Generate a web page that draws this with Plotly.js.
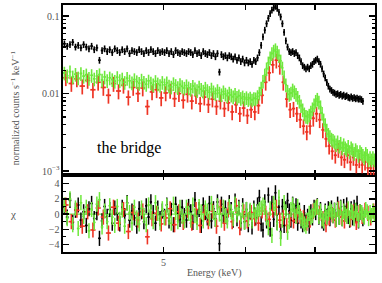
<!DOCTYPE html>
<html><head><meta charset="utf-8">
<script src="https://cdn.plot.ly/plotly-3.0.1.min.js"></script>
<style>body{margin:0;padding:0;background:#fff}#c{width:382px;height:283px}</style>
</head><body><div id="c"></div>
<script>
// coarse bins (0.05 keV) used for the red spectrum
var energyCoarse = [4.025,4.075,4.125,4.175,4.225,4.275,4.325,4.375,4.425,4.475,4.525,4.575,4.625,4.675,4.725,4.775,4.825,4.875,4.925,4.975,5.025,5.075,5.125,5.175,5.225,5.275,5.325,5.375,5.425,5.475,5.525,5.575,5.625,5.675,5.725,5.775,5.825,5.875,5.925,5.975,6.025,6.075,6.125,6.175,6.225,6.275,6.325,6.375,6.425,6.475,6.525,6.575,6.625,6.675,6.725,6.775,6.825,6.875,6.925,6.975,7.025,7.075,7.125,7.175,7.225,7.275,7.325,7.375,7.425,7.475,7.525,7.575,7.625,7.675,7.725,7.775,7.825,7.875,7.925,7.975];

// fine bins (0.025 keV) used for the black and green spectra
var energyFine = [
4.0125,4.0375,4.0625,4.0875,4.1125,4.1375,4.1625,4.1875,4.2125,4.2375,
4.2625,4.2875,4.3125,4.3375,4.3625,4.3875,4.4125,4.4375,4.4625,4.4875,
4.5125,4.5375,4.5625,4.5875,4.6125,4.6375,4.6625,4.6875,4.7125,4.7375,
4.7625,4.7875,4.8125,4.8375,4.8625,4.8875,4.9125,4.9375,4.9625,4.9875,
5.0125,5.0375,5.0625,5.0875,5.1125,5.1375,5.1625,5.1875,5.2125,5.2375,
5.2625,5.2875,5.3125,5.3375,5.3625,5.3875,5.4125,5.4375,5.4625,5.4875,
5.5125,5.5375,5.5625,5.5875,5.6125,5.6375,5.6625,5.6875,5.7125,5.7375,
5.7625,5.7875,5.8125,5.8375,5.8625,5.8875,5.9125,5.9375,5.9625,5.9875,
6.0125,6.0375,6.0625,6.0875,6.1125,6.1375,6.1625,6.1875,6.2125,6.2375,
6.2625,6.2875,6.3125,6.3375,6.3625,6.3875,6.4125,6.4375,6.4625,6.4875,
6.5125,6.5375,6.5625,6.5875,6.6125,6.6375,6.6625,6.6875,6.7125,6.7375,
6.7625,6.7875,6.8125,6.8375,6.8625,6.8875,6.9125,6.9375,6.9625,6.9875,
7.0125,7.0375,7.0625,7.0875,7.1125,7.1375,7.1625,7.1875,7.2125,7.2375,
7.2625,7.2875,7.3125,7.3375,7.3625,7.3875,7.4125,7.4375,7.4625,7.4875,
7.5125,7.5375,7.5625,7.5875,7.6125,7.6375,7.6625,7.6875,7.7125,7.7375,
7.7625,7.7875,7.8125,7.8375,7.8625,7.8875,7.9125,7.9375,7.9625,7.9875];

var blackCounts = [
0.044,0.041,0.043,0.046,0.040,0.042,0.039,0.043,0.040,0.038,
0.041,0.037,0.039,0.027,0.036,0.038,0.035,0.037,0.034,0.038,
0.036,0.034,0.037,0.035,0.038,0.033,0.036,0.035,0.034,0.037,
0.035,0.033,0.036,0.034,0.037,0.035,0.033,0.036,0.034,0.035,
0.034,0.036,0.033,0.035,0.032,0.036,0.034,0.033,0.035,0.034,
0.033,0.035,0.034,0.032,0.036,0.033,0.034,0.031,0.035,0.033,
0.032,0.034,0.031,0.033,0.030,0.033,0.019,0.032,0.030,0.031,
0.029,0.031,0.030,0.028,0.030,0.027,0.029,0.026,0.028,0.025,
0.027,0.025,0.026,0.024,0.027,0.026,0.029,0.034,0.042,0.054,
0.066,0.080,0.094,0.108,0.120,0.128,0.134,0.126,0.112,0.098,
0.080,0.062,0.048,0.040,0.035,0.034,0.035,0.033,0.034,0.031,
0.029,0.026,0.023,0.022,0.021,0.022,0.021,0.023,0.024,0.026,
0.027,0.028,0.026,0.024,0.021,0.018,0.016,0.014,0.0125,0.0115,
0.0110,0.0104,0.0102,0.0098,0.0100,0.0095,0.0098,0.0093,0.0096,0.0092,
0.0094,0.0090,0.0088,0.0091,0.0087,0.0089,0.0086,0.0088,0.0085,0.0086,
0.0084,0.0080,null,null,null,null,null,null,null,null];

var greenCounts = [
0.0185,0.0170,0.0192,0.0165,0.0178,0.0160,0.0182,0.0168,0.0175,0.0158,
0.0172,0.0155,0.0168,0.0176,0.0150,0.0164,0.0148,0.0160,0.0152,0.0145,
0.0162,0.0148,0.0155,0.0140,0.0158,0.0146,0.0138,0.0152,0.0143,0.0136,
0.0150,0.0140,0.0132,0.0146,0.0137,0.0130,0.0144,0.0134,0.0128,0.0140,
0.0130,0.0138,0.0126,0.0122,0.0135,0.0128,0.0120,0.0131,0.0124,0.0118,
0.0127,0.0119,0.0114,0.0125,0.0116,0.0110,0.0122,0.0114,0.0108,0.0118,
0.0110,0.0104,0.0115,0.0106,0.0100,0.0110,0.0102,0.0097,0.0106,0.0099,
0.0094,0.0102,0.0096,0.0091,0.0098,0.0090,0.0094,0.0087,0.0091,0.0085,
0.0089,0.0084,0.0088,0.0083,0.0087,0.0086,0.0092,0.0102,0.0118,0.0145,
0.0175,0.0210,0.0250,0.0290,0.0330,0.0355,0.0370,0.0345,0.0310,0.0265,
0.0215,0.0165,0.0130,0.0108,0.0098,0.0102,0.0112,0.0106,0.0098,0.0090,
0.0080,0.0070,0.0062,0.0055,0.0051,0.0050,0.0053,0.0058,0.0064,0.0072,
0.0080,0.0085,0.0078,0.0068,0.0056,0.0046,0.0040,0.0034,0.0030,0.0028,
0.0026,0.0025,0.0024,0.0022,0.0024,0.0021,0.0023,0.0020,0.0022,0.0020,
0.0019,0.0021,0.0018,0.0020,0.0019,0.0017,0.0019,0.0018,0.0016,0.0018,
0.0017,0.0016,0.0015,0.0017,0.0016,0.0014,0.0015,0.0014,0.0015,0.0014];

var redCounts = [0.0160,0.0135,0.0155,0.0125,0.0148,0.0112,0.0140,0.0120,0.0095,0.0135,0.0108,0.0128,0.0090,0.0120,0.0100,0.0118,0.0068,0.0105,0.0112,0.0088,0.0102,0.0110,0.0086,0.0100,0.0082,0.0098,0.0080,0.0094,0.0074,0.0090,0.0072,0.0085,0.0068,0.0080,0.0064,0.0076,0.0058,0.0072,0.0055,0.0065,0.0052,0.0062,0.0058,0.0070,0.0095,0.0140,0.0185,0.0235,0.0270,0.0225,0.0140,0.0085,0.0062,0.0064,0.0055,0.0046,0.0038,0.0032,0.0038,0.0048,0.0055,0.0046,0.0034,0.0026,0.0021,0.0018,0.0016,0.0019,0.0015,0.0014,0.0016,0.0013,0.0015,0.0012,0.0014,0.0012,0.0013,0.0011,0.0011,0.0010];

var blackChi = [
0.9,-0.4,1.8,-1.1,0.5,1.2,-0.8,0.3,-1.5,0.7,
1.4,-0.6,0.2,-3.2,-0.9,1.0,-0.3,0.6,-1.2,0.8,
0.1,-1.3,0.9,-0.2,1.5,-0.8,0.4,-0.5,-1.6,0.7,
0.3,-1.0,1.1,-0.4,1.6,0.2,-1.2,0.8,-0.6,0.4,
-0.3,1.2,-0.9,0.5,-1.4,1.3,0.1,-0.7,0.9,-0.2,
-0.8,1.0,0.3,-1.1,1.9,-0.4,0.6,-1.5,1.2,0.2,
-0.5,1.4,-0.9,0.7,-0.6,1.6,-3.9,1.3,-0.2,0.8,
-0.4,1.5,0.6,-0.8,1.7,-0.6,0.9,-1.2,1.1,-1.0,
0.6,-1.4,0.3,-1.7,0.8,-0.5,1.2,2.2,-1.3,-2.1,
1.6,-0.9,2.5,-2.0,1.4,-0.7,2.8,-1.1,0.9,-2.3,
1.0,-1.5,0.7,1.8,0.4,-0.8,1.3,-0.2,1.1,-1.2,
0.5,-0.9,-1.4,0.2,-1.1,-0.3,-1.6,0.3,-0.5,0.9,
0.2,1.1,-0.4,0.6,-0.9,-1.2,0.4,-0.3,0.7,-0.6,
0.8,-0.2,0.5,-0.7,1.3,-0.4,0.9,-0.6,1.0,0.1,
1.2,-0.3,-0.8,0.7,-0.5,0.9,-0.2,1.4,-0.9,0.3,
0.2,-0.6,null,null,null,null,null,null,null,null];

var greenChi = [
1.2,-0.6,2.0,-1.4,0.8,-1.9,1.5,-0.3,0.9,-2.2,
0.6,-1.1,1.3,1.9,-1.7,0.4,-1.0,1.1,-0.4,-1.5,
1.0,-0.7,0.5,-1.6,1.4,0.2,-1.2,0.9,-0.5,-1.3,
0.8,-0.2,-1.4,1.2,0.3,-1.0,1.5,0.1,-1.1,0.7,
-0.5,1.1,-0.4,-1.2,1.3,0.2,-1.0,0.9,-0.3,-0.9,
0.9,0.1,-0.8,1.2,-0.2,-1.1,1.0,0.3,-0.9,0.8,
0.4,-0.6,1.4,0.2,-0.7,1.1,0.0,-0.8,0.9,-0.2,
-0.9,1.0,0.3,-0.6,1.3,-0.1,0.7,-0.8,0.5,-1.1,
0.6,-0.7,0.5,-0.9,0.4,-0.1,0.3,0.6,0.8,1.2,
0.9,-0.5,-1.8,0.7,-2.8,1.4,0.8,-1.2,2.2,-3.2,
-0.8,1.5,0.3,-2.4,-1.0,0.6,1.2,0.4,-0.3,1.0,
0.2,-0.6,-0.9,-1.3,-1.6,-0.8,0.1,-0.4,-0.2,0.5,
0.8,1.0,-0.3,0.4,-0.6,-0.9,0.2,-0.4,0.1,0.6,
0.3,-0.2,0.5,-0.7,0.6,-0.4,0.8,-0.6,0.4,0.0,
-0.3,0.7,-0.5,0.4,0.2,-0.6,0.5,0.1,-0.8,0.3,
0.2,-0.1,-0.4,0.6,0.3,-0.6,0.2,-0.2,0.4,0.0];

var redChi = [1.2,-1.0,0.5,-1.6,0.3,-2.1,0.8,-0.4,-2.5,0.9,-1.2,0.6,-2.3,0.2,-0.8,0.4,-3.0,-0.6,0.1,-1.3,-0.5,0.7,-1.4,0.3,-1.1,0.5,-1.2,0.6,-1.5,0.2,-1.0,0.4,-1.6,0.9,-1.2,0.6,-1.0,1.1,-1.8,0.3,-0.9,0.2,-0.6,-1.2,0.4,0.1,-0.7,0.5,0.9,-0.8,-0.4,-1.5,-0.6,-0.9,-0.2,-0.3,-0.5,-1.2,-0.8,0.4,0.9,0.1,-0.6,-1.4,-0.5,-0.1,-0.8,0.7,-0.4,-0.9,0.5,-0.7,0.3,-1.1,0.2,-0.3,0.5,0.1,-0.5,0.4];

var zeroLineX = [4, 8];
var zeroLineY = [0, 0];

var topTickVals = [0.001, 0.01, 0.1];
var topTickText = ['10<sup>−3</sup>', '0.01', '0.1'];
var topMinorVals = [0.0009,0.002,0.003,0.004,0.005,0.006,0.007,0.008,0.009,0.02,0.03,0.04,0.05,0.06,0.07,0.08,0.09];
var xTickVals = [4,5,6,7,8];
var xTickText = ['','5','','',''];
var chiTickVals = [-4,-2,0,2,4];
var chiTickText = ['−4','−2','0','2','4'];
var chiMinorVals = [-5,-3,-1,1,3,5];

var BLACK = '#000000', RED = '#ee3424', GREEN = '#6ee83c';
var FONT = 'Liberation Serif, Times New Roman, serif';

function spec(x, y, halfw, color, pct, th) {
  return {x: x, y: y, xaxis: 'x2', yaxis: 'y', type: 'scatter', mode: 'markers',
    marker: {size: 2, color: color},
    error_x: {type: 'constant', value: halfw, color: color, thickness: th, width: 0},
    error_y: {type: 'percent', value: pct, color: color, thickness: th, width: 0},
    hoverinfo: 'none', showlegend: false};
}
function resid(x, y, halfw, color, th) {
  return {x: x, y: y, xaxis: 'x', yaxis: 'y2', type: 'scatter', mode: 'markers',
    marker: {size: 2, color: color},
    error_x: {type: 'constant', value: halfw, color: color, thickness: th, width: 0},
    error_y: {type: 'constant', value: 1, color: color, thickness: th, width: 0},
    hoverinfo: 'none', showlegend: false};
}

var data = [
  {x: zeroLineX, y: zeroLineY, xaxis: 'x', yaxis: 'y2', type: 'scatter', mode: 'lines',
   line: {color: GREEN, width: 1.3}, showlegend: false, hoverinfo: 'none'},
  spec(energyFine, blackCounts, 0.0125, BLACK, 10, 1.6),
  spec(energyCoarse, redCounts, 0.025, RED, 22, 1.7),
  spec(energyFine, greenCounts, 0.0125, GREEN, 20, 1.6),
  resid(energyFine, blackChi, 0.0125, BLACK, 1.5),
  resid(energyCoarse, redChi, 0.025, RED, 1.6),
  resid(energyFine, greenChi, 0.0125, GREEN, 1.5)
];

var axisCommon = {showline: true, linecolor: '#000', linewidth: 1.6, mirror: 'ticks',
  ticks: 'inside', tickcolor: '#000', tickwidth: 1.3, showgrid: false, zeroline: false,
  tickfont: {family: FONT, size: 10, color: '#555'}};

var split = 77 / 247;
var layout = {
  width: 382, height: 283,
  margin: {l: 63, r: 7, t: 5, b: 31},
  paper_bgcolor: '#fff', plot_bgcolor: '#fff',
  font: {family: FONT, color: '#555'},
  xaxis: Object.assign({}, axisCommon, {type: 'log', range: [Math.log10(4), Math.log10(8)],
    anchor: 'y2', tickvals: xTickVals, ticktext: xTickText, ticklen: 5}),
  xaxis2: Object.assign({}, axisCommon, {type: 'log', range: [Math.log10(4), Math.log10(8)],
    anchor: 'y', matches: 'x', tickvals: xTickVals, ticktext: xTickText, ticklen: 5, showticklabels: false}),
  yaxis: Object.assign({}, axisCommon, {type: 'log', domain: [split, 1],
    range: [Math.log10(0.00089), Math.log10(0.139)], anchor: 'x2',
    tickvals: topTickVals, ticktext: topTickText, ticklen: 6,
    minor: {tickvals: topMinorVals, ticks: 'inside', ticklen: 3, tickcolor: '#000', tickwidth: 1.2}}),
  yaxis2: Object.assign({}, axisCommon, {domain: [0, split], range: [-5.0, 5.15], anchor: 'x',
    tickvals: chiTickVals, ticktext: chiTickText, ticklen: 6,
    minor: {tickvals: chiMinorVals, ticks: 'inside', ticklen: 3, tickcolor: '#000', tickwidth: 1.2}}),
  annotations: [
    {text: 'the bridge', xref: 'paper', yref: 'paper', x: 0.21, y: 0.421, xanchor: 'center', yanchor: 'middle',
     showarrow: false, font: {family: FONT, size: 16, color: '#000'}},
    {text: 'normalized counts s<sup>−1</sup> keV<sup>−1</sup>', xref: 'paper', yref: 'paper',
     x: -0.155, y: 0.585, xanchor: 'center', yanchor: 'middle', textangle: -90, showarrow: false,
     font: {family: FONT, size: 10, color: '#555'}},
    {text: 'χ', xref: 'paper', yref: 'paper', x: -0.16, y: split / 2, xanchor: 'center', yanchor: 'middle',
     showarrow: false, font: {family: FONT, size: 11, color: '#555'}},
    {text: 'Energy (keV)', xref: 'paper', yref: 'paper', x: 0.487, y: -0.085, xanchor: 'center', yanchor: 'middle',
     showarrow: false, font: {family: FONT, size: 10, color: '#555'}}
  ]
};

Plotly.newPlot('c', data, layout, {staticPlot: true, displayModeBar: false});
</script></body></html>
